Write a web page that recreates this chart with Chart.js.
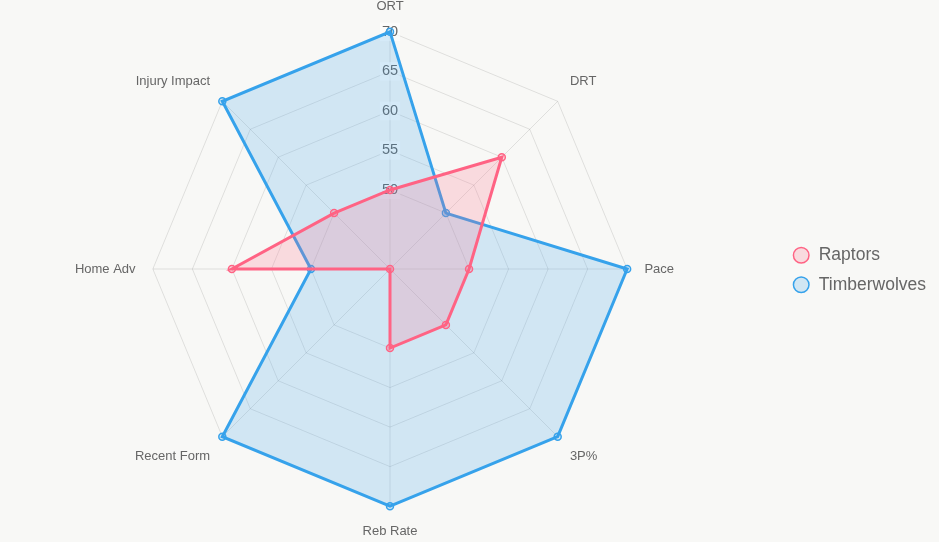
<!DOCTYPE html>
<html>
<head>
<meta charset="utf-8">
<script src="https://cdn.jsdelivr.net/npm/chart.js@4"></script>
<style>
  html, body { margin: 0; padding: 0; background: #f8f8f6; }
  #wrap { width: 939px; height: 542px; }
</style>
</head>
<body>
<div id="wrap"><canvas id="radar"></canvas></div>
<script>
// Catégories et valeurs
const categories = ["ORT", "DRT", "Pace", "3P%", "Reb Rate", "Recent Form", "Home Adv", "Injury Impact"];
const raptors = [50, 60, 50, 50, 50, 40, 60, 50];
const timberwolves = [70, 50, 70, 70, 70, 70, 50, 70];
const tickValues = [45, 50, 55, 60, 65, 70];

Chart.defaults.font.family = "'Liberation Sans', Arial, sans-serif";
Chart.defaults.color = "#666";

const ctx = document.getElementById("radar").getContext("2d");
const radar = new Chart(ctx, {
    type: "radar",
    data: {
        labels: categories,
        datasets: [
            {
                label: "Raptors",
                data: raptors,
                borderColor: "rgb(255, 99, 132)",
                backgroundColor: "rgba(255, 99, 132, 0.2)",
                pointBackgroundColor: "rgba(255, 99, 132, 0.2)",
                pointBorderColor: "rgb(255, 99, 132)",
                borderWidth: 3,
                pointRadius: 3.5,
                pointBorderWidth: 1.5,
            },
            {
                label: "Timberwolves",
                data: timberwolves,
                borderColor: "rgb(54, 162, 235)",
                backgroundColor: "rgba(54, 162, 235, 0.2)",
                pointBackgroundColor: "rgba(54, 162, 235, 0.2)",
                pointBorderColor: "rgb(54, 162, 235)",
                borderWidth: 3,
                pointRadius: 3.5,
                pointBorderWidth: 1.5,
            },
        ],
    },
    options: {
        responsive: true,
        maintainAspectRatio: false,
        animation: false,
        layout: { padding: { top: 0, bottom: 2, left: 0, right: 3 } },
        scales: {
            r: {
                min: 40,
                max: 70,
                afterBuildTicks: (scale) => {
                    scale.ticks = tickValues.map(v => ({ value: v }));
                },
                ticks: {
                    font: { size: 14.5 },
                    color: "#666",
                    backdropColor: "rgba(255, 255, 255, 0.6)",
                },
                grid: { color: "rgba(0, 0, 0, 0.1)" },
                angleLines: { color: "rgba(0, 0, 0, 0.1)" },
                pointLabels: { font: { size: 13 }, color: "#666", padding: 8 },
            },
        },
        plugins: {
            legend: {
                position: "right",
                labels: {
                    usePointStyle: true,
                    pointStyle: "circle",
                    boxWidth: 18,
                    boxHeight: 11,
                    font: { size: 17.5 },
                    color: "#666",
                    padding: 12,
                    // bordure fine pour les pastilles de la légende
                    generateLabels: (chart) => {
                        const items = Chart.defaults.plugins.legend.labels.generateLabels(chart);
                        items.forEach(item => { item.lineWidth = 1.5; });
                        return items;
                    },
                },
            },
        },
    },
});
</script>
</body>
</html>
